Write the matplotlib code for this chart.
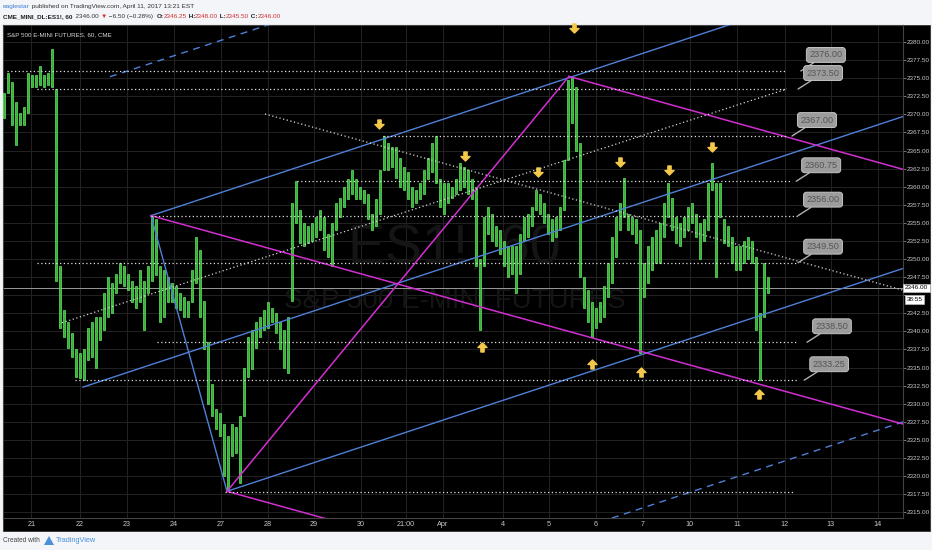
import numpy as np
import matplotlib
matplotlib.use('Agg')
import matplotlib.pyplot as plt
from matplotlib.path import Path
from matplotlib.patches import Rectangle, Polygon
from matplotlib import font_manager
import matplotlib.transforms as mtrans

# ---------------- data ----------------
# bars every ~2 hours, x measured in trading days from Mar 21
bar_start = -0.585
bar_step = 4 / 47
highs = [
    2373.0, 2375.75, 2374.5, 2371.75, 2370.25, 2371.0, 2375.75, 2375.5, 2375.5, 2376.75, 2375.5, 2375.75,
    2379.0, 2373.5, 2349.0, 2343.0, 2341.25, 2339.75, 2337.5, 2337.0, 2337.5, 2340.5, 2341.25, 2342.0,
    2342.0, 2345.25, 2347.5, 2346.75, 2348.0, 2349.5, 2349.0, 2348.0, 2347.0, 2346.25, 2348.5, 2347.0,
    2349.0, 2356.0, 2355.5, 2349.0, 2348.5, 2347.5, 2346.75, 2346.25, 2345.25, 2344.75, 2344.25, 2348.5,
    2353.0, 2351.25, 2344.25, 2338.5, 2332.75, 2329.25, 2328.75, 2327.25, 2325.5, 2327.25, 2326.75, 2328.25,
    2335.0, 2339.25, 2340.25, 2341.25, 2342.0, 2343.0, 2344.0, 2343.25, 2342.5, 2341.25, 2340.25, 2342.0,
    2357.75, 2360.75, 2356.75, 2355.0, 2354.5, 2355.0, 2355.75, 2356.75, 2355.75, 2353.5, 2355.0, 2357.75,
    2358.5, 2360.0, 2361.0, 2362.25, 2361.0, 2360.0, 2359.5, 2359.0, 2356.25, 2358.25, 2362.25, 2367.0,
    2366.0, 2365.5, 2365.5, 2364.0, 2362.75, 2362.0, 2360.0, 2359.5, 2360.5, 2362.25, 2364.0, 2366.0,
    2367.0, 2361.0, 2360.5, 2360.5, 2360.0, 2361.0, 2363.25, 2362.75, 2362.25, 2361.0, 2360.0, 2350.0,
    2355.75, 2357.25, 2356.25, 2354.5, 2354.0, 2352.5, 2351.75, 2351.75, 2351.75, 2353.5, 2355.75, 2356.25,
    2357.25, 2359.5, 2359.0, 2357.75, 2356.25, 2355.5, 2355.75, 2357.25, 2363.75, 2374.75, 2375.25, 2373.75,
    2366.0, 2347.5, 2345.75, 2344.0, 2343.25, 2344.0, 2346.25, 2349.5, 2353.0, 2355.75, 2357.75, 2361.25,
    2356.25, 2355.75, 2355.5, 2354.0, 2349.5, 2351.75, 2353.0, 2354.0, 2355.0, 2357.75, 2360.5, 2358.5,
    2355.75, 2355.0, 2355.75, 2357.25, 2357.75, 2356.25, 2355.0, 2355.5, 2360.5, 2363.25, 2360.5, 2360.5,
    2355.5, 2354.5, 2353.0, 2351.75, 2351.75, 2352.5, 2353.0, 2352.5, 2350.25, 2342.5, 2349.5, 2347.5,
]
lows = [
    2369.5, 2373.0, 2368.5, 2365.75, 2368.5, 2368.5, 2370.25, 2373.75, 2373.75, 2374.0, 2373.75, 2374.0,
    2373.75, 2347.0, 2340.5, 2339.25, 2337.75, 2336.5, 2333.75, 2333.5, 2333.25, 2336.0, 2336.5, 2335.0,
    2338.75, 2340.25, 2342.0, 2342.5, 2345.25, 2346.75, 2346.25, 2345.75, 2344.0, 2343.25, 2344.0, 2340.25,
    2345.25, 2347.0, 2347.75, 2341.25, 2342.0, 2344.0, 2344.0, 2343.25, 2343.0, 2342.0, 2342.0, 2344.0,
    2346.75, 2342.0, 2337.5, 2330.0, 2328.25, 2326.5, 2325.5, 2320.0, 2318.0, 2322.75, 2323.25, 2319.0,
    2328.25, 2333.75, 2334.75, 2337.75, 2339.25, 2340.25, 2340.5, 2341.25, 2339.75, 2337.5, 2335.0, 2334.25,
    2344.25, 2355.0, 2352.25, 2351.75, 2352.25, 2352.5, 2353.0, 2354.0, 2351.25, 2350.25, 2349.0, 2354.0,
    2355.75, 2357.25, 2358.25, 2359.0, 2358.25, 2358.25, 2357.75, 2355.5, 2354.0, 2354.5, 2356.25, 2362.25,
    2362.25, 2362.75, 2361.25, 2360.0, 2359.5, 2358.25, 2357.25, 2357.75, 2358.25, 2359.0, 2361.0, 2362.0,
    2360.5, 2357.25, 2356.25, 2357.75, 2358.5, 2359.0, 2359.5, 2360.0, 2359.0, 2358.25, 2349.0, 2340.25,
    2349.0, 2353.5, 2352.5, 2351.75, 2350.75, 2349.0, 2347.5, 2348.0, 2345.25, 2348.0, 2352.5, 2353.0,
    2354.5, 2356.75, 2356.25, 2355.0, 2353.5, 2352.5, 2353.0, 2354.0, 2356.75, 2363.75, 2368.75, 2365.0,
    2347.5, 2343.25, 2341.25, 2339.25, 2340.5, 2341.25, 2342.0, 2344.75, 2346.75, 2350.25, 2354.0, 2355.75,
    2354.0, 2353.5, 2352.25, 2337.0, 2344.75, 2346.75, 2348.5, 2349.5, 2349.5, 2353.0, 2355.75, 2354.0,
    2352.25, 2351.75, 2353.0, 2354.0, 2355.0, 2353.0, 2350.0, 2352.5, 2354.0, 2359.5, 2347.5, 2355.75,
    2352.25, 2351.75, 2349.5, 2348.5, 2348.5, 2349.5, 2350.0, 2349.5, 2340.25, 2333.25, 2342.0, 2345.25,
]
last_price = 2346.00
countdown = '38:55'

tick_pos = [0, 1.03, 2.03, 3.03, 4.03, 5.03, 6.01, 7.01, 7.97, 8.75,
            10.03, 11.01, 12.01, 13.01, 14.01, 15.01, 16.03, 17.01, 18.01]
tick_labels = ['21', '22', '23', '24', '27', '28', '29', '30', '21:00', 'Apr',
               '4', '5', '6', '7', '10', '11', '12', '13', '14']

# horizontal support / resistance levels
level_prices = [2376.00, 2373.50, 2367.00, 2360.75, 2356.00, 2349.50, 2338.50, 2333.25, 2317.75]
level_start = [-0.52, 0.12, 7.48, 5.65, 2.54, 0.12, 2.67, 0.93, 4.12]
level_end = [16.07, 16.07, 16.07, 16.14, 16.31, 16.31, 16.31, 16.29, 16.20]
level_texts = ['2376.00', '2373.50', '2367.00', '2360.75', '2356.00', '2349.50', '2338.50', '2333.25', None]
label_anchor = [16.37, 16.31, 16.18, 16.27, 16.31, 16.31, 16.50, 16.44, None]

# pivots
piv_A = (2.543, 2356.0)
piv_B = (4.160, 2317.9)
piv_C = (11.436, 2375.25)

# blue channel lines (start, end)
blue_solid = [
    (piv_A, piv_B),
    (piv_A, (18.543, 2390.3)),
    ((1.096, 2332.3), (18.543, 2369.7)),
    (piv_B, (18.543, 2348.7)),
]
blue_dashed = [
    ((1.670, 2375.2), (5.10, 2382.5)),
    ((12.35, 2314.2), (18.543, 2327.5)),
]
magenta_lines = [
    (piv_A, (18.543, 2327.2)),
    (piv_B, (6.30, 2314.05)),
    (piv_B, piv_C),
    (piv_C, (18.543, 2362.4)),
]
white_diag = [
    ((0.649, 2341.2), (16.07, 2373.5)),
    ((4.968, 2370.05), (18.543, 2345.7)),
]

down_arrow_x = [7.394, 9.223, 10.777, 11.543, 12.521, 13.564, 14.479]
down_arrow_y = [2368.67, 2364.24, 2362.03, 2381.93, 2363.41, 2362.31, 2365.49]
up_arrow_x = [9.585, 11.926, 12.968, 15.479]
up_arrow_y = [2337.84, 2335.49, 2334.38, 2331.35]

# ---------------- figure ----------------
W, H = 932, 550
fig = plt.figure(figsize=(W / 100, H / 100), dpi=100)
fig.patch.set_facecolor('#f3f5f8')

names = {f.name for f in font_manager.fontManager.ttflist}
narrow = 'Liberation Sans Narrow' if 'Liberation Sans Narrow' in names else 'Liberation Sans'
FAM = [narrow, 'DejaVu Sans']

# black chart panel (behind axes)
panel = Rectangle((3 / W, 1 - 531 / H), 927 / W, 506 / H, transform=fig.transFigure,
                  facecolor='black', edgecolor='#333333', lw=0.6, zorder=-10)
fig.patches.append(panel)

ax = fig.add_axes([3 / W, 1 - 518 / H, 900 / W, 493 / H])
ax.set_zorder(1)
ax.set_facecolor('black')
ax.set_xlim(-0.606, 18.543)
ax.set_ylim(2314.21, 2382.35)

yt = np.arange(2315, 2380.1, 2.5)
ax.yaxis.tick_right()
ax.set_yticks(yt)
# the 2345.00 label sits under the last-price tag
ax.set_yticklabels(['' if abs(v - 2345.0) < 0.01 else f'{v:.2f}' for v in yt], family=FAM)
ax.set_xticks(tick_pos)
ax.set_xticklabels(tick_labels, family=FAM)
ax.tick_params(axis='y', colors='#8a8a8a', labelcolor='#c8c8c8', labelsize=4.6, length=2.0, width=0.6, pad=1.0)
ax.tick_params(axis='x', colors='#8a8a8a', labelcolor='#c8c8c8', labelsize=5.2, length=0, pad=2.5)
for s in ax.spines.values():
    s.set_color('#444444')
    s.set_linewidth(0.8)
ax.grid(True, color='#232323', lw=0.7)
ax.set_axisbelow(True)

# watermark
ax.text(0.502, 0.545, 'ES1!, 60', transform=ax.transAxes, ha='center', va='center',
        fontsize=40, color='#151515', family=FAM, zorder=1)
ax.text(0.502, 0.44, 'S&P 500 E-MINI FUTURES', transform=ax.transAxes, ha='center', va='center',
        fontsize=20, color='#151515', family=FAM, zorder=1)

# price bars
xs = bar_start + bar_step * np.arange(len(highs))
hi = np.array(highs)
lo = np.array(lows)
ax.bar(xs, hi - lo, bottom=lo, width=bar_step * 0.62, color='#36b236', edgecolor='#6cf86c',
       linewidth=0.45, zorder=3)

# current price line
ax.axhline(last_price, color='#9a9a9a', lw=0.7, zorder=2)

BLUE = '#4f80d8'
MAG = '#d12fd1'
for (p0, p1) in blue_solid:
    ax.plot([p0[0], p1[0]], [p0[1], p1[1]], color=BLUE, lw=1.0, zorder=4)
for (p0, p1) in blue_dashed:
    ax.plot([p0[0], p1[0]], [p0[1], p1[1]], color=BLUE, lw=1.0, ls=(0, (5, 4)), zorder=4)
for (p0, p1) in magenta_lines:
    ax.plot([p0[0], p1[0]], [p0[1], p1[1]], color=MAG, lw=1.1, zorder=4)
for (p0, p1) in white_diag:
    ax.plot([p0[0], p1[0]], [p0[1], p1[1]], color='#d8d8d8', lw=0.9, ls=(0, (1, 2)), zorder=4)

for p, s, e in zip(level_prices, level_start, level_end):
    ax.plot([s, e], [p, p], color='#e0e0e0', lw=0.9, ls=(0, (1, 2)), zorder=4)

for p, txt, ax_x in zip(level_prices, level_texts, label_anchor):
    if txt is None:
        continue
    ax.annotate(txt, xy=(ax_x, p), xytext=(25, 16), textcoords='offset pixels',
                ha='center', va='center', fontsize=6.6, color='#555555', family=FAM,
                bbox=dict(boxstyle='round,pad=0.32', fc='#9c9c9c', ec='#c4c4c4', lw=0.7),
                arrowprops=dict(arrowstyle='-', color='#b0b0b0', lw=1.0, shrinkA=0, shrinkB=0),
                zorder=6)

# arrows
down_path = Path([(-0.18, 0.5), (0.18, 0.5), (0.18, 0.0), (0.5, 0.0), (0.0, -0.5),
                  (-0.5, 0.0), (-0.18, 0.0), (-0.18, 0.5)],
                 [Path.MOVETO] + [Path.LINETO] * 6 + [Path.CLOSEPOLY])
up_path = Path([(-0.18, -0.5), (0.18, -0.5), (0.18, 0.0), (0.5, 0.0), (0.0, 0.5),
                (-0.5, 0.0), (-0.18, 0.0), (-0.18, -0.5)],
               [Path.MOVETO] + [Path.LINETO] * 6 + [Path.CLOSEPOLY])
ax.plot(down_arrow_x, down_arrow_y, ls='none', marker=down_path, markersize=6.5,
        color='#f4c84a', mec='#f4c84a', zorder=7, clip_on=False)
ax.plot(up_arrow_x, up_arrow_y, ls='none', marker=up_path, markersize=6.5,
        color='#f4c84a', mec='#f4c84a', zorder=7)

# price tag on axis
btr = mtrans.blended_transform_factory(ax.transAxes, ax.transData)
ax.text(1.002, last_price, f'{last_price:.2f}', transform=btr, ha='left', va='center', fontsize=4.6,
        color='black', family=FAM, bbox=dict(boxstyle='square,pad=0.25', fc='white', ec='#bbbbbb', lw=0.5),
        zorder=8, clip_on=False)
ax.text(1.004, last_price - 1.6, countdown, transform=btr, ha='left', va='center', fontsize=4.6,
        color='black', family=FAM, bbox=dict(boxstyle='square,pad=0.25', fc='white', ec='#bbbbbb', lw=0.5),
        zorder=8, clip_on=False)

# ---------------- texts around ----------------
renderer = fig.canvas.get_renderer()


def pieces_text(x_px, y_px, pieces, target_w, base=6.0):
    def place(size):
        arts = []
        x = x_px
        for s, c, w in pieces:
            t = fig.text(x / W, 1 - y_px / H, s, color=c, fontsize=size, family=FAM,
                         fontweight=w, va='center', ha='left', zorder=5)
            x += t.get_window_extent(renderer).width
            arts.append(t)
        return arts, x - x_px
    arts, w = place(base)
    for a in arts:
        a.remove()
    place(base * target_w / w)


pieces_text(3, 6.5, [('eaglestar', '#3b7dd8', 'normal'),
                     (' published on TradingView.com, April 11, 2017 13:21 EST', '#333333', 'normal')], 194)
RED = '#d32f2f'
pieces_text(3, 16.5, [('CME_MINI_DL:ES1!, 60', '#222222', 'bold'), ('  2346.00 ', '#333333', 'normal'),
                      ('▼', RED, 'normal'), (' −6.50 (−0.28%)  ', '#333333', 'normal'),
                      ('O:', '#222222', 'bold'), ('2346.25', RED, 'normal'),
                      (' H:', '#222222', 'bold'), ('2348.00', RED, 'normal'),
                      (' L:', '#222222', 'bold'), ('2345.50', RED, 'normal'),
                      (' C:', '#222222', 'bold'), ('2346.00', RED, 'normal')], 282)
pieces_text(7, 35, [('S&P 500 E-MINI FUTURES, 60, CME', '#d8d8d8', 'normal')], 106)
pieces_text(3, 541, [('Created with', '#444444', 'normal')], 37)
pieces_text(56, 541, [('TradingView', '#4a90d9', 'normal')], 41)
fig.patches.append(Polygon([[44 / W, 1 - 545 / H], [49 / W, 1 - 536 / H], [54 / W, 1 - 545 / H]],
                           closed=True, transform=fig.transFigure, facecolor='#4a90d9', edgecolor='none'))

fig.savefig('out.png', dpi=100, facecolor=fig.get_facecolor())
